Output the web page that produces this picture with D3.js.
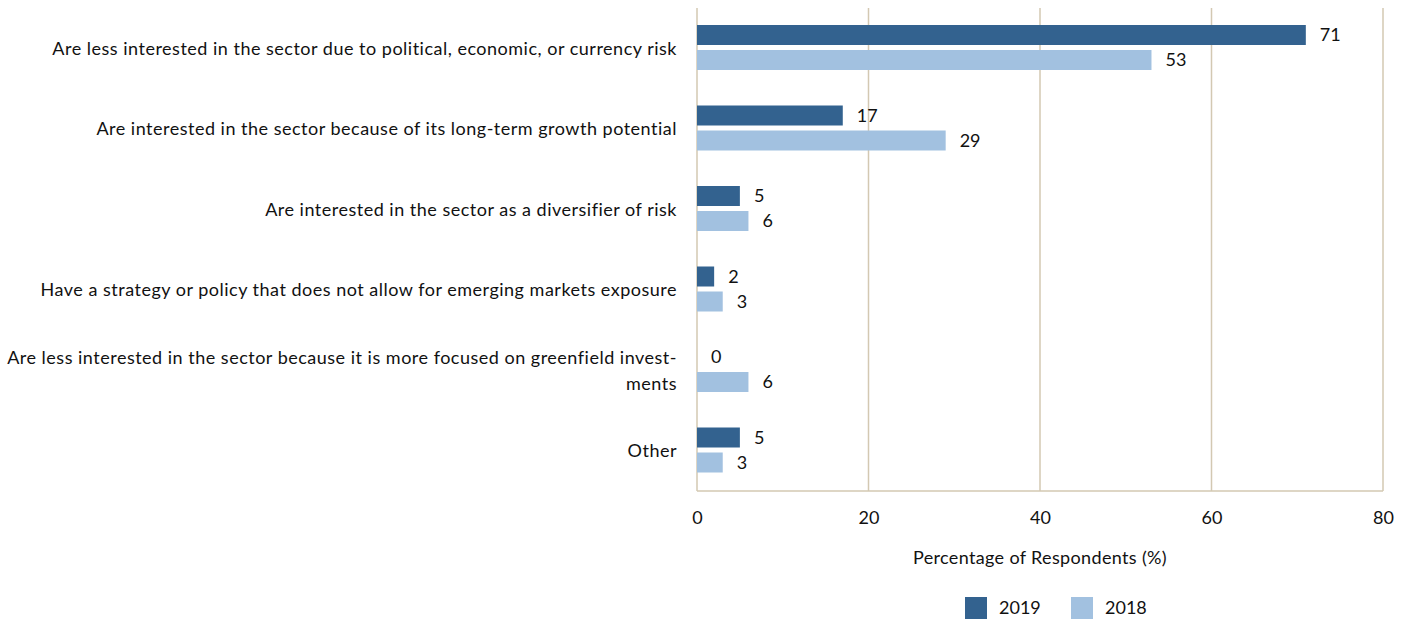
<!DOCTYPE html>
<html><head><meta charset="utf-8">
<script src="https://cdn.jsdelivr.net/npm/d3@7"></script>
<style>body{margin:0;background:#fff}svg{display:block}</style>
</head><body>
<svg id="c" width="1411" height="621"></svg>
<script>
const categories = [
  ["Are less interested in the sector due to political, economic, or currency risk"],
  ["Are interested in the sector because of its long-term growth potential"],
  ["Are interested in the sector as a diversifier of risk"],
  ["Have a strategy or policy that does not allow for emerging markets exposure"],
  ["Are less interested in the sector because it is more focused on greenfield invest-", "ments"],
  ["Other"]
];
const values2019 = [71, 17, 5, 2, 0, 5];
const values2018 = [53, 29, 6, 3, 6, 3];
const seriesNames = ["2019", "2018"];
const xTicks = [0, 20, 40, 60, 80];

const colors = {"2019": "#33628f", "2018": "#a2c1e0"};
const grid = "#d3c8b2";
const font = "Lato, 'Open Sans', sans-serif";

const svg = d3.select("#c");
const pLeft = 697, pRight = 1383, pTop = 8, pBottom = 491;
const x = d3.scaleLinear().domain([0, 80]).range([pLeft, pRight]);
const y = d3.scaleBand().domain(d3.range(categories.length)).range([pTop, pBottom]);
const sub = d3.scaleBand().domain(seriesNames).range([17, 62]).paddingInner(0.2);

// gridlines
svg.append("g").selectAll("line").data(xTicks).join("line")
  .attr("x1", d => x(d)).attr("x2", d => x(d))
  .attr("y1", pTop).attr("y2", pBottom)
  .attr("stroke", grid).attr("stroke-width", 1.5);
svg.append("line").attr("x1", pLeft).attr("x2", pRight).attr("y1", pBottom).attr("y2", pBottom)
  .attr("stroke", grid).attr("stroke-width", 1.5);

// axis
const ax = svg.append("g").attr("transform", `translate(0,${pBottom})`)
  .call(d3.axisBottom(x).tickValues(xTicks).tickSize(0).tickPadding(20));
ax.select(".domain").remove();
ax.selectAll("text").attr("font-family", font).attr("font-size", 18).attr("fill", "#111");

// bars
const data = [];
categories.forEach((c, i) => {
  data.push({i, s: "2019", v: values2019[i]});
  data.push({i, s: "2018", v: values2018[i]});
});
svg.append("g").selectAll("rect").data(data).join("rect")
  .attr("x", x(0)).attr("y", d => y(d.i) + sub(d.s))
  .attr("width", d => x(d.v) - x(0)).attr("height", sub.bandwidth())
  .attr("fill", d => colors[d.s]);

svg.append("g").selectAll("text").data(data).join("text")
  .attr("x", d => x(d.v) + 14).attr("y", d => y(d.i) + sub(d.s) + sub.bandwidth() / 2)
  .attr("dy", "0.36em").attr("font-family", font).attr("font-size", 18).attr("fill", "#111")
  .text(d => d.v);

// category labels
const lab = svg.append("g").selectAll("text").data(categories).join("text")
  .attr("text-anchor", "end").attr("font-family", font).attr("font-size", 18)
  .attr("letter-spacing", "0.5px").attr("fill", "#111")
  .attr("transform", (d, i) => `translate(677,${y(i) + y.bandwidth() / 2})`);
lab.each(function(d) {
  const t = d3.select(this);
  const n = d.length;
  d.forEach((line, k) => {
    t.append("tspan").attr("x", 0).attr("y", (k - (n - 1) / 2) * 26).attr("dy", "0.36em").text(line);
  });
});

// axis title
svg.append("text").attr("x", x(40)).attr("y", 564).attr("text-anchor", "middle")
  .attr("font-family", font).attr("font-size", 18).attr("letter-spacing", "0.35px").attr("fill", "#111")
  .text("Percentage of Respondents (%)");

// legend
const lg = svg.append("g").selectAll("g").data(seriesNames).join("g")
  .attr("transform", (d, i) => `translate(${965 + i * 106},597)`);
lg.append("rect").attr("width", 22).attr("height", 22).attr("fill", d => colors[d]);
lg.append("text").attr("x", 34).attr("y", 11).attr("dy", "0.36em")
  .attr("font-family", font).attr("font-size", 18).attr("fill", "#111").text(d => d);
</script>
</body></html>
